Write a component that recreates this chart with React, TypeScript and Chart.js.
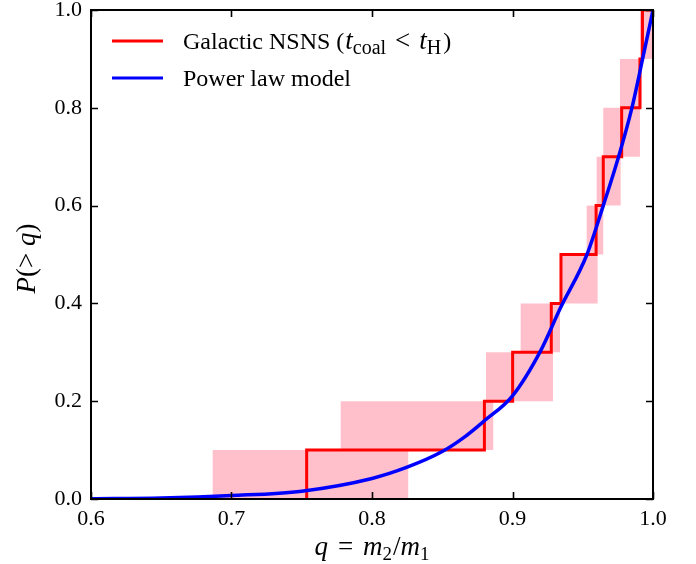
import React, { useEffect, useRef } from "react";
import { Chart, registerables } from "chart.js";

Chart.register(...registerables);

// ---- data ----
const xTicks = [0.6, 0.7, 0.8, 0.9, 1.0];
const yTicks = [0.0, 0.2, 0.4, 0.6, 0.8, 1.0];

// red step curve (q where the cumulative fraction steps up, and the level reached)
const stepQ = [0.7535, 0.7535, 0.88, 0.9001, 0.9276, 0.9345, 0.9595, 0.9646, 0.9777, 0.9907, 0.9925, 1.0];
const stepP = [0.0, 0.1, 0.2, 0.3, 0.4, 0.5, 0.6, 0.7, 0.8, 0.9, 1.0, 1.0];

// pink uncertainty bands, one per 0.1 level
const bandP0 = [0.0, 0.1, 0.2, 0.3, 0.4, 0.5, 0.6, 0.7, 0.8, 0.9];
const bandLo = [0.6866, 0.7777, 0.8811, 0.9058, 0.935, 0.9528, 0.9599, 0.9646, 0.9765, 0.9907];
const bandHi = [0.8258, 0.8863, 0.9288, 0.9338, 0.9606, 0.9646, 0.977, 0.9907, 0.992, 1.003];

// blue power law model curve
const modelQ = [0.6, 0.65, 0.7, 0.75, 0.8, 0.825, 0.85, 0.865, 0.88, 0.9, 0.92, 0.934, 0.953, 0.9646, 0.9755, 0.985, 0.9926, 1.0];
const modelP = [0.0005, 0.002, 0.007, 0.016, 0.042, 0.065, 0.097, 0.125, 0.16, 0.211, 0.303, 0.39, 0.5, 0.6, 0.7, 0.8, 0.9, 1.0];

const SERIF = "'Liberation Serif', 'Times New Roman', serif";

type Run = { t: string; it?: boolean; sz: number; dy?: number; gap?: number };

function measureRuns(ctx: CanvasRenderingContext2D, runs: Run[]) {
  let w = 0;
  for (const r of runs) {
    ctx.font = `${r.it ? "italic " : ""}${r.sz}px ${SERIF}`;
    w += ctx.measureText(r.t).width + (r.gap || 0);
  }
  return w;
}

function drawRuns(ctx: CanvasRenderingContext2D, runs: Run[], x: number, y: number) {
  let cx = x;
  ctx.textBaseline = "alphabetic";
  ctx.textAlign = "left";
  for (const r of runs) {
    ctx.font = `${r.it ? "italic " : ""}${r.sz}px ${SERIF}`;
    ctx.fillText(r.t, cx, y + (r.dy || 0));
    cx += ctx.measureText(r.t).width + (r.gap || 0);
  }
}

const decorPlugin = {
  id: "decor",
  afterDraw(chart: any) {
    const ctx: CanvasRenderingContext2D = chart.ctx;
    const a = chart.chartArea;
    const xs = chart.scales.x;
    const ys = chart.scales.y;
    ctx.save();
    ctx.strokeStyle = "#000";
    ctx.fillStyle = "#000";
    // frame
    ctx.lineWidth = 2;
    ctx.strokeRect(a.left, a.top, a.right - a.left, a.bottom - a.top);
    // inward ticks on all sides
    const tl = 7;
    ctx.lineWidth = 1.6;
    ctx.beginPath();
    for (const v of xTicks) {
      const px = Math.round(xs.getPixelForValue(v)) + 0.5;
      ctx.moveTo(px, a.bottom);
      ctx.lineTo(px, a.bottom - tl);
      ctx.moveTo(px, a.top);
      ctx.lineTo(px, a.top + tl);
    }
    for (const v of yTicks) {
      const py = Math.round(ys.getPixelForValue(v)) + 0.5;
      ctx.moveTo(a.left, py);
      ctx.lineTo(a.left + tl, py);
      ctx.moveTo(a.right, py);
      ctx.lineTo(a.right - tl, py);
    }
    ctx.stroke();

    // x title: q = m2/m1
    const TS = 27, SS = 19;
    const xr: Run[] = [
      { t: "q", it: true, sz: TS, gap: 10 },
      { t: "=", sz: TS, gap: 10 },
      { t: "m", it: true, sz: TS },
      { t: "2", sz: SS, dy: 5, gap: 1 },
      { t: "/", sz: TS },
      { t: "m", it: true, sz: TS },
      { t: "1", sz: SS, dy: 5 },
    ];
    const xw = measureRuns(ctx, xr);
    drawRuns(ctx, xr, (a.left + a.right) / 2 - xw / 2, 555);

    // y title: P(> q)
    const yr: Run[] = [
      { t: "P", it: true, sz: TS },
      { t: "(>", sz: TS, gap: 7 },
      { t: "q", it: true, sz: TS },
      { t: ")", sz: TS },
    ];
    const yw = measureRuns(ctx, yr);
    ctx.save();
    ctx.translate(35, (a.top + a.bottom) / 2 + 4);
    ctx.rotate(-Math.PI / 2);
    drawRuns(ctx, yr, -yw / 2, 0);
    ctx.restore();

    // legend
    const lx0 = 112, lx1 = 163, tx = 183;
    ctx.lineWidth = 3;
    ctx.strokeStyle = "#ff0000";
    ctx.beginPath();
    ctx.moveTo(lx0, 41);
    ctx.lineTo(lx1, 41);
    ctx.stroke();
    ctx.strokeStyle = "#0000ff";
    ctx.beginPath();
    ctx.moveTo(lx0, 78);
    ctx.lineTo(lx1, 78);
    ctx.stroke();
    ctx.fillStyle = "#000";
    drawRuns(ctx, [
      { t: "Galactic NSNS (", sz: 24, gap: 1 },
      { t: "t", it: true, sz: 27 },
      { t: "coal", sz: 20, dy: 5, gap: 9 },
      { t: "<", sz: 27, gap: 9 },
      { t: "t", it: true, sz: 27 },
      { t: "H", sz: 20, dy: 5, gap: 2 },
      { t: ")", sz: 24 },
    ], tx, 49);
    drawRuns(ctx, [{ t: "Power law model", sz: 24 }], tx, 86);
    ctx.restore();
  },
};

export default function App() {
  const ref = useRef<HTMLCanvasElement | null>(null);
  useEffect(() => {
    if (!ref.current) return;
    const stepData = stepQ.map((q, i) => ({ x: q, y: stepP[i] }));
    const modelData = modelQ.map((q, i) => ({ x: q, y: modelP[i] }));
    const bandSets = bandP0.map((p0, i) => ({
      label: "band" + i,
      data: [
        { x: bandLo[i], y: p0 },
        { x: bandHi[i], y: p0 },
        { x: bandHi[i], y: p0 + 0.1 },
        { x: bandLo[i], y: p0 + 0.1 },
      ],
      fill: "shape",
      backgroundColor: "#ffc0cb",
      borderColor: "rgba(0,0,0,0)",
      borderWidth: 0,
      pointRadius: 0,
      tension: 0,
      order: 3,
    }));
    const chart = new Chart(ref.current, {
      type: "line",
      data: {
        datasets: [
          {
            label: "Power law model",
            data: modelData,
            borderColor: "#0000ff",
            borderWidth: 3.5,
            pointRadius: 0,
            fill: false,
            cubicInterpolationMode: "monotone",
            order: 0,
          },
          {
            label: "Galactic NSNS",
            data: stepData,
            borderColor: "#ff0000",
            borderWidth: 3,
            pointRadius: 0,
            fill: false,
            stepped: "before",
            order: 1,
          },
          ...bandSets,
        ] as any,
      },
      options: {
        responsive: false,
        maintainAspectRatio: false,
        animation: false,
        events: [],
        layout: { padding: { left: 0, top: 10, right: 43, bottom: 0 } },
        plugins: { legend: { display: false }, tooltip: { enabled: false } },
        scales: {
          x: {
            type: "linear",
            min: 0.6,
            max: 1.0,
            grid: { display: false, drawTicks: false },
            border: { display: false },
            afterBuildTicks: (s: any) => {
              s.ticks = xTicks.map((v) => ({ value: v }));
            },
            afterFit: (s: any) => {
              s.height = 65;
              s.paddingLeft = 0;
              s.paddingRight = 0;
            },
            ticks: {
              color: "#000",
              font: { family: SERIF, size: 22, lineHeight: 1 },
              padding: 9,
              maxRotation: 0,
              autoSkip: false,
              callback: (v: any) => Number(v).toFixed(1),
            },
          },
          y: {
            type: "linear",
            min: 0,
            max: 1,
            grid: { display: false, drawTicks: false },
            border: { display: false },
            afterBuildTicks: (s: any) => {
              s.ticks = yTicks.map((v) => ({ value: v }));
            },
            afterFit: (s: any) => {
              s.width = 91;
              s.paddingTop = 0;
              s.paddingBottom = 0;
            },
            ticks: {
              color: "#000",
              font: { family: SERIF, size: 22, lineHeight: 1 },
              padding: 9,
              autoSkip: false,
              callback: (v: any) => Number(v).toFixed(1),
            },
          },
        },
      },
      plugins: [decorPlugin],
    } as any);
    return () => chart.destroy();
  }, []);
  return (
    <div style={{ position: "fixed", left: 0, top: 0, width: 696, height: 564, background: "#fff" }}>
      <canvas ref={ref} width={696} height={564} style={{ width: 696, height: 564, display: "block" }} />
    </div>
  );
}
